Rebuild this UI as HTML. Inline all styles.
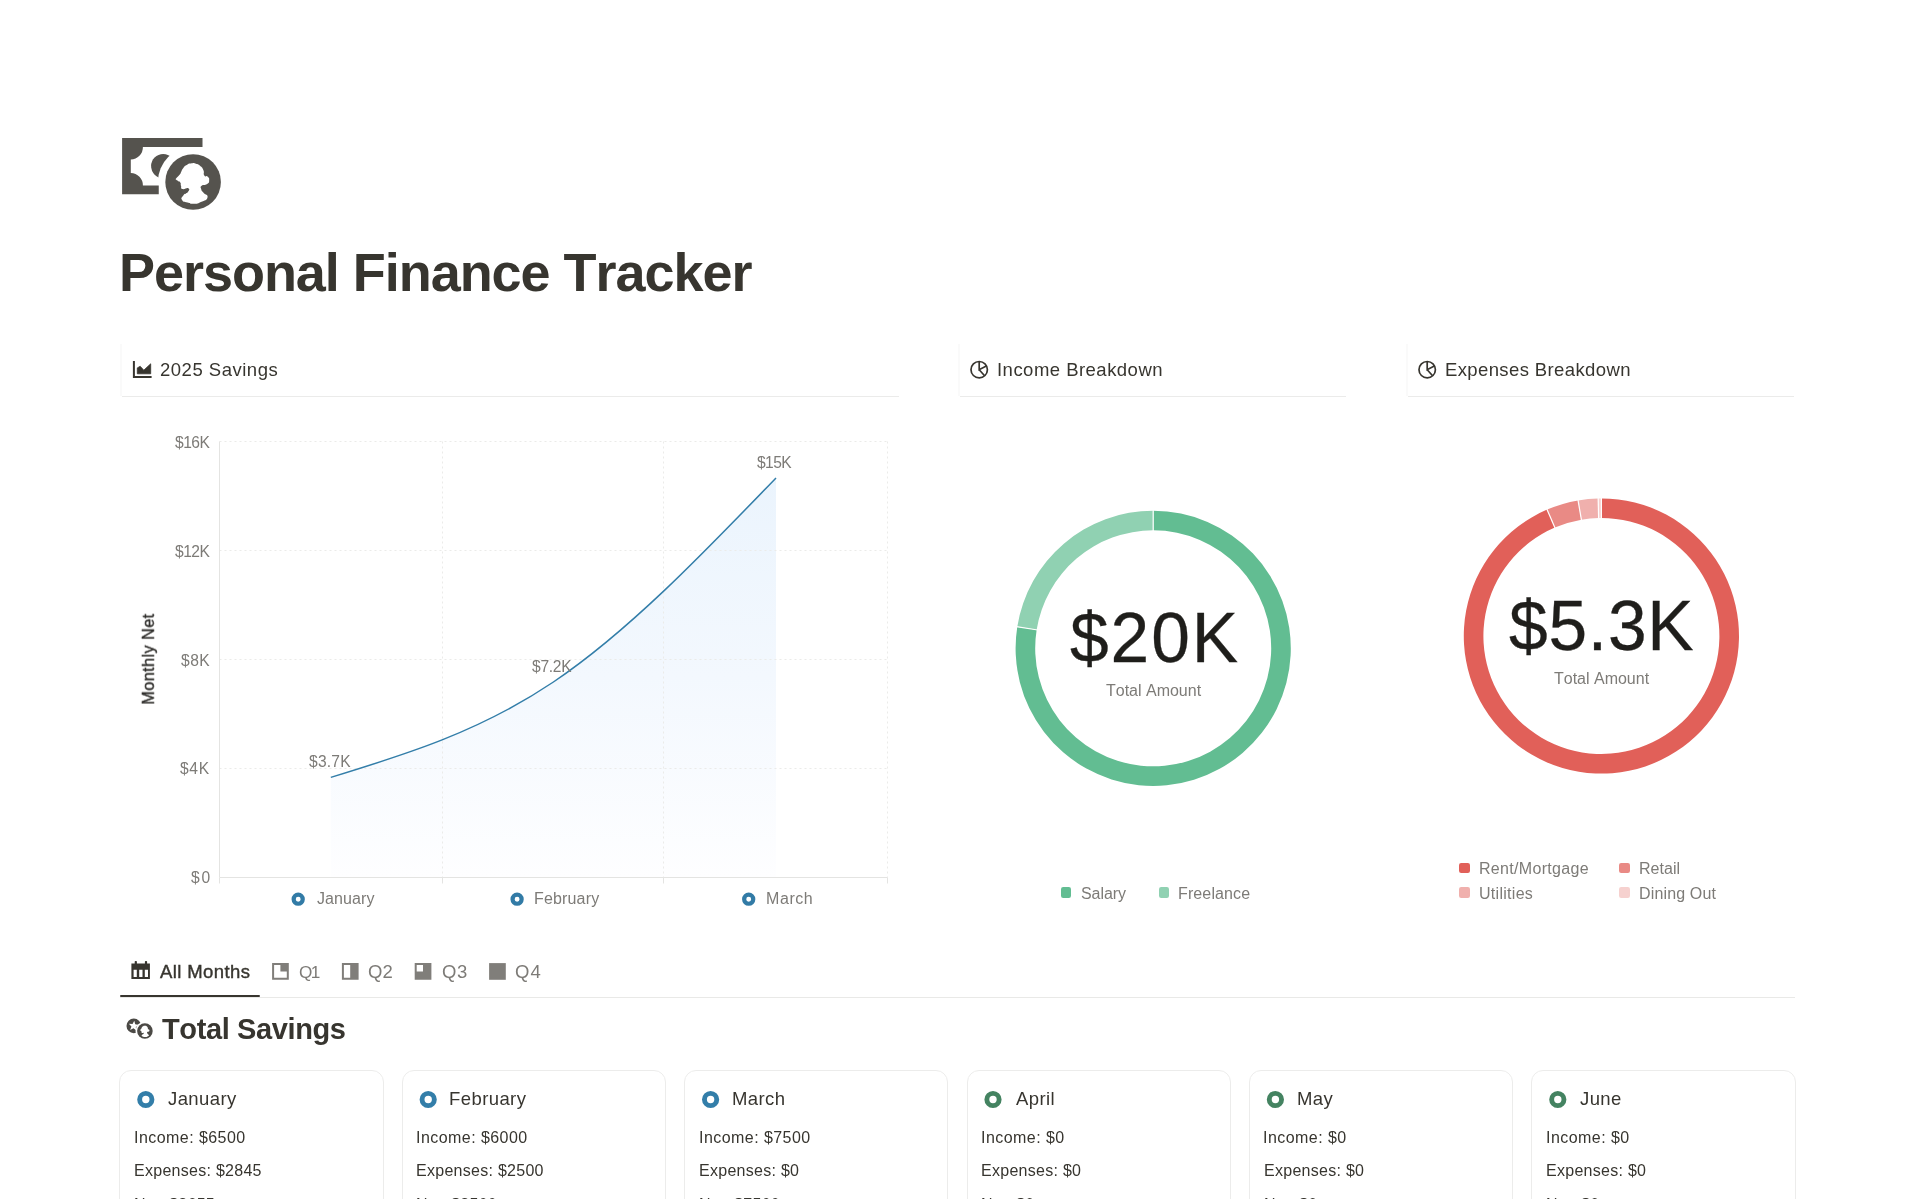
<!DOCTYPE html>
<html lang="en"><head><meta charset="utf-8"><title>Personal Finance Tracker</title>
<style>
html,body{margin:0;padding:0;background:#fff;}
body{width:1920px;height:1199px;position:relative;overflow:hidden;font-family:"Liberation Sans", sans-serif;}
.t{position:absolute;white-space:pre;line-height:1;font-family:"Liberation Sans", sans-serif;font-kerning:none;will-change:transform;}
.abs{position:absolute;}
svg{position:absolute;left:0;top:0;overflow:visible;}
.card{position:absolute;box-sizing:border-box;border:1px solid #ececeb;border-radius:12px;background:#fff;}
.hdr{position:absolute;box-sizing:border-box;border-radius:4px;background:#fff;}
</style></head><body>
<svg width="1920" height="330" viewBox="0 0 1920 330">
<circle cx="163.2" cy="166.1" r="12.1" fill="#55534e"/>
<circle cx="193.1" cy="182" r="35.2" fill="#fff"/>
<path fill="#55534e" d="M122.1,137.9 H202.5 V147.1 H142.9 A12.3,12.3 0 0 1 130.8,159.6 V172.9 A12.3,12.3 0 0 1 142.9,185.4 H158.75 V194.2 H122.1 Z"/>
<circle cx="193.1" cy="182" r="27.8" fill="#55534e"/>
<path fill="#fff" d="M191.67,163.33 C188.61,163.78 189.44,163.47 186.67,165.00 C183.89,166.53 185.14,165.69 183.33,167.92 C181.53,170.14 182.36,169.58 181.25,171.67 C180.14,173.75 181.67,171.94 180.00,174.17 C178.33,176.39 177.58,176.53 176.25,178.33 C174.92,180.14 175.31,178.61 176.00,179.58 C176.69,180.56 176.86,180.22 178.33,181.25 C179.81,182.28 179.53,181.14 180.42,182.67 C181.31,184.19 180.31,183.72 181.00,185.83 C181.69,187.94 180.06,188.22 182.50,189.00 C184.94,189.78 186.61,187.06 188.33,188.17 C190.06,189.28 189.33,189.92 187.67,192.33 C186.00,194.75 185.19,192.86 183.33,195.42 C181.47,197.97 180.69,197.64 182.08,200.00 C183.47,202.36 183.47,201.25 187.50,202.50 C191.53,203.75 189.72,203.89 194.17,203.75 C198.61,203.61 196.39,204.17 200.83,202.08 C205.28,200.00 206.67,200.69 207.50,197.50 C208.33,194.31 205.42,195.28 203.33,192.50 C201.25,189.72 201.81,191.39 201.25,189.17 C200.69,186.94 199.72,187.56 201.67,185.83 C203.61,184.11 204.58,185.89 207.08,184.00 C209.58,182.11 208.97,182.61 209.17,180.17 C209.36,177.72 209.28,178.25 207.67,176.67 C206.06,175.08 205.78,177.64 204.33,175.42 C202.89,173.19 204.78,173.25 203.33,170.00 C201.89,166.75 202.50,167.78 200.00,165.67 C197.50,163.56 198.61,164.44 195.83,163.67 C193.06,162.89 194.72,162.89 191.67,163.33Z"/>
</svg>
<div class="t" style="left:118.99px;top:245.39px;font-size:54px;font-weight:700;color:#37352f;letter-spacing:-1.034px;">Personal Finance Tracker</div>
<div class="abs" style="left:120px;top:344px;width:2px;height:52px;background:#fafafa"></div>
<div class="abs" style="left:122px;top:396px;width:777px;height:1px;background:#ebebea"></div>
<div class="abs" style="left:958px;top:344px;width:2px;height:52px;background:#fafafa"></div>
<div class="abs" style="left:960px;top:396px;width:386px;height:1px;background:#ebebea"></div>
<div class="abs" style="left:1406px;top:344px;width:2px;height:52px;background:#fafafa"></div>
<div class="abs" style="left:1408px;top:396px;width:386px;height:1px;background:#ebebea"></div>
<svg width="1920" height="400" viewBox="0 0 1920 400">
<g fill="none" stroke="#37352f" stroke-width="2">
<path d="M133.9,361 V377.1 H151.6"/>
</g>
<path fill="#37352f" stroke="#37352f" stroke-width="0.8" stroke-linejoin="round" d="M137.3,373.8 V367.9 L140.2,366.3 L143.8,370.2 L150.7,363.8 V373.8 Z"/>
<g fill="none" stroke="#37352f" stroke-width="1.7">
<circle cx="979.2" cy="369.7" r="8.2"/><path d="M979.2,361.3 V369.7 L986.3,365.9 M979.2,369.7 L984.6,375.7"/>
<circle cx="1427.2" cy="369.7" r="8.2"/><path d="M1427.2,361.3 V369.7 L1434.3,365.9 M1427.2,369.7 L1432.6,375.7"/>
</g>
</svg>
<div class="t" style="left:159.87px;top:361.04px;font-size:18.5px;font-weight:400;color:#37352f;letter-spacing:0.508px;">2025 Savings</div>
<div class="t" style="left:996.69px;top:361.04px;font-size:18.5px;font-weight:400;color:#37352f;letter-spacing:0.477px;">Income Breakdown</div>
<div class="t" style="left:1444.78px;top:361.04px;font-size:18.5px;font-weight:400;color:#37352f;letter-spacing:0.381px;">Expenses Breakdown</div>
<svg width="1920" height="1199" viewBox="0 0 1920 1199">
<defs><linearGradient id="ag" x1="0" y1="477" x2="0" y2="877" gradientUnits="userSpaceOnUse"><stop offset="0" stop-color="#ebf4fd"/><stop offset="0.5" stop-color="#f3f8fe"/><stop offset="1" stop-color="#fefeff"/></linearGradient></defs>
<path d="M330.80,777.40 C405.00,754.66 479.20,731.92 553.40,682.00 C627.60,632.08 701.80,554.99 776.00,477.90 L776.00,877.5 L330.80,877.5 Z" fill="url(#ag)"/>
<g stroke="#ebebe9" stroke-width="1" stroke-dasharray="2 3" fill="none">
<path d="M219.5,441.5 H887.5"/>
<path d="M219.5,550.5 H887.5"/>
<path d="M219.5,659.5 H887.5"/>
<path d="M219.5,768.5 H887.5"/>
<path d="M442.5,441.5 V877.5"/>
<path d="M663.5,441.5 V877.5"/>
<path d="M887.5,441.5 V877.5"/>
</g>
<g stroke="#e4e4e2" stroke-width="1" fill="none"><path d="M219.5,441.5 V877.5 H887.5"/>
<path d="M219.5,877.5 V883.5"/>
<path d="M442.5,877.5 V883.5"/>
<path d="M663.5,877.5 V883.5"/>
<path d="M887.5,877.5 V883.5"/>
</g>
<path d="M330.80,777.40 C405.00,754.66 479.20,731.92 553.40,682.00 C627.60,632.08 701.80,554.99 776.00,477.90" fill="none" stroke="#337ea9" stroke-width="1.5"/>
<circle cx="298.2" cy="899.2" r="4.55" fill="none" stroke="#327ba6" stroke-width="4.2"/>
<circle cx="517.1" cy="899.2" r="4.55" fill="none" stroke="#327ba6" stroke-width="4.2"/>
<circle cx="748.7" cy="899.2" r="4.55" fill="none" stroke="#327ba6" stroke-width="4.2"/>
</svg>
<div class="t" style="left:174.53px;top:435.09px;font-size:15.6px;font-weight:400;color:#7d7b77;letter-spacing:-0.497px;">$16K</div>
<div class="t" style="left:174.53px;top:544.19px;font-size:15.6px;font-weight:400;color:#7d7b77;letter-spacing:-0.497px;">$12K</div>
<div class="t" style="left:180.63px;top:653.19px;font-size:15.6px;font-weight:400;color:#7d7b77;letter-spacing:0.493px;">$8K</div>
<div class="t" style="left:180.13px;top:761.39px;font-size:15.6px;font-weight:400;color:#7d7b77;letter-spacing:0.693px;">$4K</div>
<div class="t" style="left:190.63px;top:870.09px;font-size:15.6px;font-weight:400;color:#7d7b77;letter-spacing:1.725px;">$0</div>
<div class="t" style="left:308.83px;top:754.29px;font-size:15.6px;font-weight:400;color:#7d7b77;letter-spacing:0.219px;">$3.7K</div>
<div class="t" style="left:531.83px;top:659.09px;font-size:15.6px;font-weight:400;color:#7d7b77;letter-spacing:-0.281px;">$7.2K</div>
<div class="t" style="left:757.23px;top:455.29px;font-size:15.6px;font-weight:400;color:#7d7b77;letter-spacing:-0.563px;">$15K</div>
<div class="t" style="left:316.55px;top:890.86px;font-size:16px;font-weight:400;color:#7d7b77;letter-spacing:0.077px;">January</div>
<div class="t" style="left:534.19px;top:890.86px;font-size:16px;font-weight:400;color:#7d7b77;letter-spacing:0.16px;">February</div>
<div class="t" style="left:766.49px;top:890.86px;font-size:16px;font-weight:400;color:#7d7b77;letter-spacing:0.575px;">March</div>
<div class="t" style="left:148.3px;top:658.8px;font-size:16.2px;font-weight:400;color:#2b2a27;letter-spacing:0.45px;-webkit-text-stroke:0.35px #2b2a27;transform:translate(-50%,-50%) rotate(-90deg);">Monthly Net</div>
<svg width="1920" height="1199" viewBox="0 0 1920 1199">
<path d="M1153.20,510.70 A137.6,137.6 0 1 1 1017.29,626.77 L1036.65,629.84 A118.0,118.0 0 1 0 1153.20,530.30 Z" fill="#62bd92"/>
<path d="M1017.29,626.77 A137.6,137.6 0 0 1 1153.20,510.70 L1153.20,530.30 A118.0,118.0 0 0 0 1036.65,629.84 Z" fill="#90d1b2"/>
<path d="M1153.20,531.30 L1153.20,509.70" stroke="#fff" stroke-width="1.2"/>
<path d="M1037.64,630.00 L1016.31,626.62" stroke="#fff" stroke-width="1.2"/>
</svg>
<svg width="1920" height="1199" viewBox="0 0 1920 1199">
<path d="M1601.40,498.40 A137.6,137.6 0 1 1 1547.11,509.56 L1554.85,527.57 A118.0,118.0 0 1 0 1601.40,518.00 Z" fill="#e16059"/>
<path d="M1547.11,509.56 A137.6,137.6 0 0 1 1578.06,500.39 L1581.38,519.71 A118.0,118.0 0 0 0 1554.85,527.57 Z" fill="#e98a85"/>
<path d="M1578.06,500.39 A137.6,137.6 0 0 1 1598.17,498.44 L1598.63,518.03 A118.0,118.0 0 0 0 1581.38,519.71 Z" fill="#f0b0ad"/>
<path d="M1598.17,498.44 A137.6,137.6 0 0 1 1601.40,498.40 L1601.40,518.00 A118.0,118.0 0 0 0 1598.63,518.03 Z" fill="#f6d1cf"/>
<path d="M1601.40,519.00 L1601.40,497.40" stroke="#fff" stroke-width="1.2"/>
<path d="M1555.24,528.49 L1546.72,508.64" stroke="#fff" stroke-width="1.2"/>
<path d="M1581.55,520.70 L1577.89,499.41" stroke="#fff" stroke-width="1.2"/>
<path d="M1598.65,519.03 L1598.14,497.44" stroke="#fff" stroke-width="1.2"/>
</svg>
<div class="t" style="left:1069.75px;top:603.97px;font-size:69.5px;font-weight:400;color:#1f1e1b;letter-spacing:1.938px;-webkit-text-stroke:0.3px #1f1e1b;">$20K</div>
<div class="t" style="left:1106.14px;top:683.26px;font-size:16px;font-weight:400;color:#7d7b77;letter-spacing:-0.007px;">Total Amount</div>
<div class="t" style="left:1509.35px;top:591.67px;font-size:69.5px;font-weight:400;color:#1f1e1b;letter-spacing:0.776px;-webkit-text-stroke:0.3px #1f1e1b;">$5.3K</div>
<div class="t" style="left:1554.34px;top:670.96px;font-size:16px;font-weight:400;color:#7d7b77;letter-spacing:-0.007px;">Total Amount</div>
<div class="abs" style="left:1060.9px;top:887.2px;width:10.5px;height:10.5px;border-radius:2.2px;background:#62bd92"></div>
<div class="t" style="left:1081.37px;top:886.26px;font-size:16px;font-weight:400;color:#7d7b77;letter-spacing:-0.059px;">Salary</div>
<div class="abs" style="left:1158.5px;top:887.2px;width:10.5px;height:10.5px;border-radius:2.2px;background:#90d1b2"></div>
<div class="t" style="left:1178.39px;top:886.26px;font-size:16px;font-weight:400;color:#7d7b77;letter-spacing:0.122px;">Freelance</div>
<div class="abs" style="left:1459.3px;top:862.7px;width:10.5px;height:10.5px;border-radius:2.2px;background:#e16059"></div>
<div class="t" style="left:1479.29px;top:861.26px;font-size:16px;font-weight:400;color:#7d7b77;letter-spacing:0.316px;">Rent/Mortgage</div>
<div class="abs" style="left:1619.2px;top:862.7px;width:10.5px;height:10.5px;border-radius:2.2px;background:#e98a85"></div>
<div class="t" style="left:1638.99px;top:861.26px;font-size:16px;font-weight:400;color:#7d7b77;letter-spacing:0.035px;">Retail</div>
<div class="abs" style="left:1459.3px;top:887.2px;width:10.5px;height:10.5px;border-radius:2.2px;background:#f0b0ad"></div>
<div class="t" style="left:1479.37px;top:886.26px;font-size:16px;font-weight:400;color:#7d7b77;letter-spacing:0.281px;">Utilities</div>
<div class="abs" style="left:1619.2px;top:887.2px;width:10.5px;height:10.5px;border-radius:2.2px;background:#f6d1cf"></div>
<div class="t" style="left:1638.99px;top:886.26px;font-size:16px;font-weight:400;color:#7d7b77;letter-spacing:0.148px;">Dining Out</div>
<div class="abs" style="left:120px;top:997.2px;width:1675px;height:1.2px;background:#e9e9e7"></div>
<div class="abs" style="left:120.3px;top:994.5px;width:139.7px;height:2.7px;border-radius:1.4px;background:#37352f"></div>
<svg width="1920" height="1199" viewBox="0 0 1920 1199">
<g fill="#37352f">
<path d="M131.4,963.5 H149.9 V979 H131.4 Z M133.6,969.8 V977 H136.8 V969.8 Z M139.2,969.8 V977 H142.5 V969.8 Z M144.8,969.8 V977 H148 V969.8 Z" fill-rule="evenodd"/>
<rect x="134.7" y="961" width="2.2" height="3.5" rx="0.8"/><rect x="144.9" y="961" width="2.2" height="3.5" rx="0.8"/>
</g>
<g fill="#807e7a">
<path fill-rule="evenodd" d="M272.1,963.1 H288.8 V979.8 H272.1 Z M274.1,965.1 V977.8 H286.8 V971.5 H280.4 V965.1 Z"/>
<path fill-rule="evenodd" d="M341.9,963.1 H358.6 V979.8 H341.9 Z M343.9,965.1 V977.8 H350.2 V965.1 Z"/>
<path fill-rule="evenodd" d="M414.7,963.1 H431.4 V979.8 H414.7 Z M416.7,965.1 V971.5 H423 V965.1 Z"/>
<path d="M489.1,963.1 H505.8 V979.8 H489.1 Z"/>
</g>
</svg>
<div class="t" style="left:159.76px;top:962.64px;font-size:18.5px;font-weight:400;color:#37352f;letter-spacing:0.393px;-webkit-text-stroke:0.4px #37352f;">All Months</div>
<div class="t" style="left:298.59px;top:963.74px;font-size:17.2px;font-weight:400;color:#7d7b77;letter-spacing:-1.69px;">Q1</div>
<div class="t" style="left:368.12px;top:962.64px;font-size:18.5px;font-weight:400;color:#7d7b77;letter-spacing:0.128px;">Q2</div>
<div class="t" style="left:441.52px;top:962.64px;font-size:18.5px;font-weight:400;color:#7d7b77;letter-spacing:0.71px;">Q3</div>
<div class="t" style="left:514.62px;top:962.64px;font-size:18.5px;font-weight:400;color:#7d7b77;letter-spacing:1.14px;">Q4</div>
<svg width="1920" height="1199" viewBox="0 0 1920 1199">
<circle cx="133.8" cy="1025.9" r="7.3" fill="#4b4945"/>
<path d="M134.25,1020.73 L135.24,1024.29 L138.88,1024.90 L135.80,1026.94 L136.35,1030.59 L133.46,1028.29 L130.15,1029.94 L131.45,1026.48 L128.86,1023.84 L132.55,1024.01Z" fill="#fff"/>
<circle cx="144.9" cy="1031" r="9.4" fill="#fff"/>
<circle cx="144.9" cy="1031" r="7.8" fill="#4b4945"/>
<path fill="#fff" transform="translate(144.9,1031) scale(0.2806) translate(-193.1,-182)" d="M191.67,163.33 C188.61,163.78 189.44,163.47 186.67,165.00 C183.89,166.53 185.14,165.69 183.33,167.92 C181.53,170.14 182.36,169.58 181.25,171.67 C180.14,173.75 181.67,171.94 180.00,174.17 C178.33,176.39 177.58,176.53 176.25,178.33 C174.92,180.14 175.31,178.61 176.00,179.58 C176.69,180.56 176.86,180.22 178.33,181.25 C179.81,182.28 179.53,181.14 180.42,182.67 C181.31,184.19 180.31,183.72 181.00,185.83 C181.69,187.94 180.06,188.22 182.50,189.00 C184.94,189.78 186.61,187.06 188.33,188.17 C190.06,189.28 189.33,189.92 187.67,192.33 C186.00,194.75 185.19,192.86 183.33,195.42 C181.47,197.97 180.69,197.64 182.08,200.00 C183.47,202.36 183.47,201.25 187.50,202.50 C191.53,203.75 189.72,203.89 194.17,203.75 C198.61,203.61 196.39,204.17 200.83,202.08 C205.28,200.00 206.67,200.69 207.50,197.50 C208.33,194.31 205.42,195.28 203.33,192.50 C201.25,189.72 201.81,191.39 201.25,189.17 C200.69,186.94 199.72,187.56 201.67,185.83 C203.61,184.11 204.58,185.89 207.08,184.00 C209.58,182.11 208.97,182.61 209.17,180.17 C209.36,177.72 209.28,178.25 207.67,176.67 C206.06,175.08 205.78,177.64 204.33,175.42 C202.89,173.19 204.78,173.25 203.33,170.00 C201.89,166.75 202.50,167.78 200.00,165.67 C197.50,163.56 198.61,164.44 195.83,163.67 C193.06,162.89 194.72,162.89 191.67,163.33Z"/>
</svg>
<div class="t" style="left:162.27px;top:1014.75px;font-size:29px;font-weight:700;color:#37352f;letter-spacing:-0.386px;">Total Savings</div>
<div class="card" style="left:119.3px;top:1070.2px;width:264.4px;height:200px;"></div>
<div class="t" style="left:168.31px;top:1089.64px;font-size:18.5px;font-weight:400;color:#37352f;letter-spacing:0.418px;">January</div>
<div class="t" style="left:133.82px;top:1129.76px;font-size:16px;font-weight:400;color:#37352f;letter-spacing:0.446px;">Income: $6500</div>
<div class="t" style="left:133.99px;top:1163.16px;font-size:16px;font-weight:400;color:#37352f;letter-spacing:0.274px;">Expenses: $2845</div>
<div class="t" style="left:133.99px;top:1196.56px;font-size:16px;font-weight:400;color:#37352f;letter-spacing:0.274px;">Net: $3655</div>
<div class="card" style="left:401.7px;top:1070.2px;width:264.4px;height:200px;"></div>
<div class="t" style="left:449.48px;top:1089.64px;font-size:18.5px;font-weight:400;color:#37352f;letter-spacing:0.418px;">February</div>
<div class="t" style="left:416.22px;top:1129.76px;font-size:16px;font-weight:400;color:#37352f;letter-spacing:0.446px;">Income: $6000</div>
<div class="t" style="left:416.39px;top:1163.16px;font-size:16px;font-weight:400;color:#37352f;letter-spacing:0.274px;">Expenses: $2500</div>
<div class="t" style="left:416.39px;top:1196.56px;font-size:16px;font-weight:400;color:#37352f;letter-spacing:0.274px;">Net: $3500</div>
<div class="card" style="left:684.1px;top:1070.2px;width:264.4px;height:200px;"></div>
<div class="t" style="left:731.88px;top:1089.64px;font-size:18.5px;font-weight:400;color:#37352f;letter-spacing:0.418px;">March</div>
<div class="t" style="left:698.62px;top:1129.76px;font-size:16px;font-weight:400;color:#37352f;letter-spacing:0.446px;">Income: $7500</div>
<div class="t" style="left:698.79px;top:1163.16px;font-size:16px;font-weight:400;color:#37352f;letter-spacing:0.274px;">Expenses: $0</div>
<div class="t" style="left:698.79px;top:1196.56px;font-size:16px;font-weight:400;color:#37352f;letter-spacing:0.274px;">Net: $7500</div>
<div class="card" style="left:966.5px;top:1070.2px;width:264.4px;height:200px;"></div>
<div class="t" style="left:1015.76px;top:1089.64px;font-size:18.5px;font-weight:400;color:#37352f;letter-spacing:0.418px;">April</div>
<div class="t" style="left:981.02px;top:1129.76px;font-size:16px;font-weight:400;color:#37352f;letter-spacing:0.446px;">Income: $0</div>
<div class="t" style="left:981.19px;top:1163.16px;font-size:16px;font-weight:400;color:#37352f;letter-spacing:0.274px;">Expenses: $0</div>
<div class="t" style="left:981.19px;top:1196.56px;font-size:16px;font-weight:400;color:#37352f;letter-spacing:0.274px;">Net: $0</div>
<div class="card" style="left:1248.9px;top:1070.2px;width:264.4px;height:200px;"></div>
<div class="t" style="left:1296.68px;top:1089.64px;font-size:18.5px;font-weight:400;color:#37352f;letter-spacing:0.418px;">May</div>
<div class="t" style="left:1263.42px;top:1129.76px;font-size:16px;font-weight:400;color:#37352f;letter-spacing:0.446px;">Income: $0</div>
<div class="t" style="left:1263.59px;top:1163.16px;font-size:16px;font-weight:400;color:#37352f;letter-spacing:0.274px;">Expenses: $0</div>
<div class="t" style="left:1263.59px;top:1196.56px;font-size:16px;font-weight:400;color:#37352f;letter-spacing:0.274px;">Net: $0</div>
<div class="card" style="left:1531.3px;top:1070.2px;width:264.4px;height:200px;"></div>
<div class="t" style="left:1580.31px;top:1089.64px;font-size:18.5px;font-weight:400;color:#37352f;letter-spacing:0.418px;">June</div>
<div class="t" style="left:1545.82px;top:1129.76px;font-size:16px;font-weight:400;color:#37352f;letter-spacing:0.446px;">Income: $0</div>
<div class="t" style="left:1545.99px;top:1163.16px;font-size:16px;font-weight:400;color:#37352f;letter-spacing:0.274px;">Expenses: $0</div>
<div class="t" style="left:1545.99px;top:1196.56px;font-size:16px;font-weight:400;color:#37352f;letter-spacing:0.274px;">Net: $0</div>
<svg width="1920" height="1199" viewBox="0 0 1920 1199">
<circle cx="145.8" cy="1099.5" r="6.15" fill="none" stroke="#337ea9" stroke-width="4.9"/>
<circle cx="428.2" cy="1099.5" r="6.15" fill="none" stroke="#337ea9" stroke-width="4.9"/>
<circle cx="710.6" cy="1099.5" r="6.15" fill="none" stroke="#337ea9" stroke-width="4.9"/>
<circle cx="993.0" cy="1099.5" r="6.15" fill="none" stroke="#448361" stroke-width="4.9"/>
<circle cx="1275.4" cy="1099.5" r="6.15" fill="none" stroke="#448361" stroke-width="4.9"/>
<circle cx="1557.8" cy="1099.5" r="6.15" fill="none" stroke="#448361" stroke-width="4.9"/>
</svg>
</body></html>
